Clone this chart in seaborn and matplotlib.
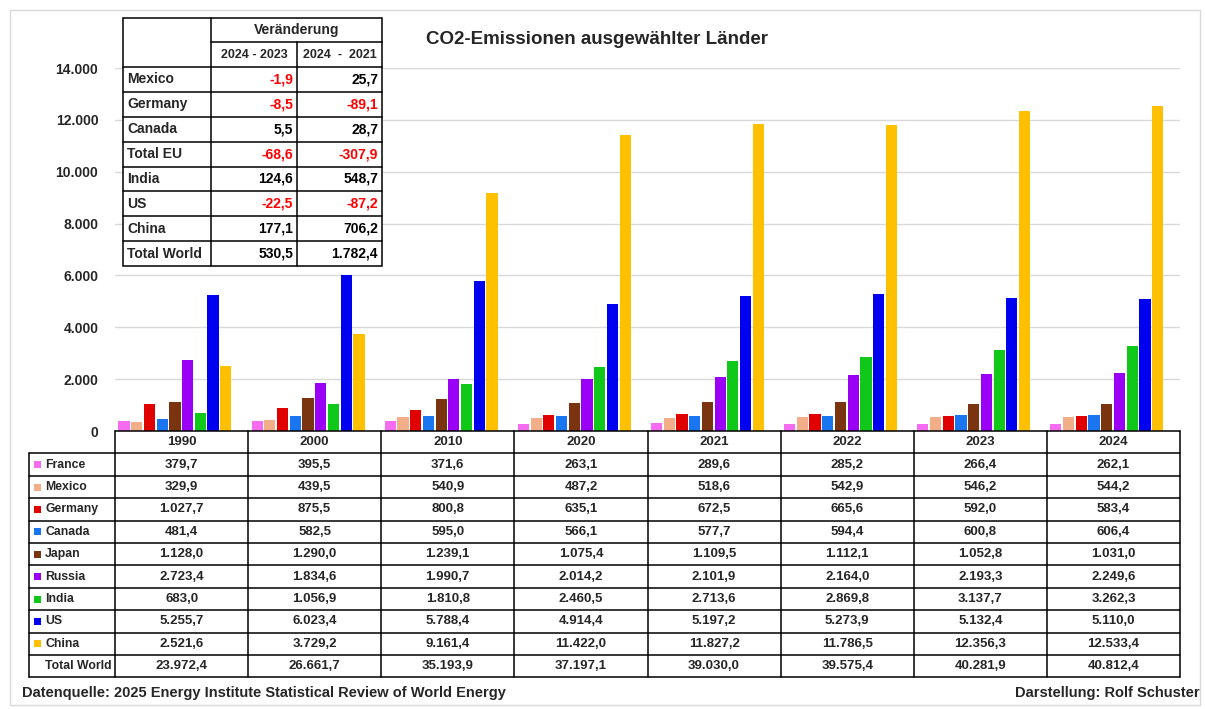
import matplotlib
matplotlib.use("Agg")
import matplotlib.pyplot as plt
from matplotlib.patches import Rectangle
import pandas as pd
import seaborn as sns

# Daten (Mio. t CO2)
years = ["1990", "2000", "2010", "2020", "2021", "2022", "2023", "2024"]
countries = ["France", "Mexico", "Germany", "Canada", "Japan", "Russia", "India", "US", "China"]
colors = ["#F56CF0", "#F2AE88", "#E00000", "#1A75F0", "#7A3410", "#9A00F5", "#10C81A", "#0000F0", "#FFC000"]

france = [379.7, 395.5, 371.6, 263.1, 289.6, 285.2, 266.4, 262.1]
mexico = [329.9, 439.5, 540.9, 487.2, 518.6, 542.9, 546.2, 544.2]
germany = [1027.7, 875.5, 800.8, 635.1, 672.5, 665.6, 592.0, 583.4]
canada = [481.4, 582.5, 595.0, 566.1, 577.7, 594.4, 600.8, 606.4]
japan = [1128.0, 1290.0, 1239.1, 1075.4, 1109.5, 1112.1, 1052.8, 1031.0]
russia = [2723.4, 1834.6, 1990.7, 2014.2, 2101.9, 2164.0, 2193.3, 2249.6]
india = [683.0, 1056.9, 1810.8, 2460.5, 2713.6, 2869.8, 3137.7, 3262.3]
us = [5255.7, 6023.4, 5788.4, 4914.4, 5197.2, 5273.9, 5132.4, 5110.0]
china = [2521.6, 3729.2, 9161.4, 11422.0, 11827.2, 11786.5, 12356.3, 12533.4]
total_world = [23972.4, 26661.7, 35193.9, 37197.1, 39030.0, 39575.4, 40281.9, 40812.4]

# Veränderungstabelle
chg_labels = ["Mexico", "Germany", "Canada", "Total EU", "India", "US", "China", "Total World"]
chg_2023 = [-1.9, -8.5, 5.5, -68.6, 124.6, -22.5, 177.1, 530.5]
chg_2021 = [25.7, -89.1, 28.7, -307.9, 548.7, -87.2, 706.2, 1782.4]

series = [france, mexico, germany, canada, japan, russia, india, us, china]
rows = []
for c, vals in zip(countries, series):
    for y, v in zip(years, vals):
        rows.append({"Jahr": y, "Land": c, "Wert": v})
df = pd.DataFrame(rows)


def de(v, dec=1):
    s = f"{v:,.{dec}f}"
    return s.replace(",", "X").replace(".", ",").replace("X", ".")


sns.set_theme(style="white")
plt.rcParams["font.family"] = ["Liberation Sans", "DejaVu Sans"]
plt.rcParams["font.weight"] = "bold"

W, H = 1205, 709
fig = plt.figure(figsize=(W / 100, H / 100), dpi=100)
fig.patch.set_facecolor("white")

# Plotbereich in Pixeln
L, R, T, B = 115, 1180, 68, 431
ax = fig.add_axes([L / W, 1 - B / H, (R - L) / W, (B - T) / H])
sns.barplot(data=df, x="Jahr", y="Wert", hue="Land", palette=colors,
            hue_order=countries, order=years, width=0.86, gap=0.12,
            saturation=1, legend=False, ax=ax, zorder=2, linewidth=0)
ax.set_ylim(0, 14000)
# Balkengruppen sitzen im Original leicht links der Spaltenmitte
ax.set_xlim(-0.45, len(years) - 0.45)
ax.set_yticks(range(0, 14001, 2000))
ax.set_yticklabels([de(v, 0) for v in range(0, 14001, 2000)], fontsize=10, fontweight="bold")
ax.tick_params(axis="y", length=0, pad=12)
ax.tick_params(axis="x", length=0, labelbottom=False)
ax.set_xlabel("")
ax.set_ylabel("")
ax.grid(axis="y", color="#D9D9D9", lw=1, zorder=0)
ax.set_axisbelow(True)
for sp in ax.spines.values():
    sp.set_visible(False)

# Overlay in Pixelkoordinaten
ov = fig.add_axes([0, 0, 1, 1], zorder=5)
ov.set_xlim(0, W)
ov.set_ylim(H, 0)
ov.axis("off")
ov.patch.set_alpha(0)

ov.add_patch(Rectangle((10, 10), 1190, 695, fill=False, ec="#D9D9D9", lw=1))

ov.text(597, 40, "CO2-Emissionen ausgewählter Länder", ha="center", va="center",
        fontsize=13.5, fontweight="bold")

# Datentabelle unter dem Diagramm
fs = 9.5
fl = 8.8
cw = (R - L) / len(years)
row_h = 22.4
tab_left = 29
lw = 1.1
# Kopfzeile mit Jahren
ov.plot([L, R], [B, B], color="black", lw=lw)
for i, y in enumerate(years):
    ov.text(L + cw * (i + 0.5), B + row_h / 2, y, ha="center", va="center", fontsize=fs, fontweight="bold")
table_rows = countries + ["Total World"]
table_vals = series + [total_world]
y0 = B + row_h
for r, (name, vals) in enumerate(zip(table_rows, table_vals)):
    yc = y0 + row_h * (r + 0.5)
    if r < len(countries):
        ov.add_patch(Rectangle((34, yc - 3.5), 7, 7, color=colors[r], lw=0))
    ov.text(45, yc, name, ha="left", va="center", fontsize=fl, fontweight="bold")
    for i, v in enumerate(vals):
        ov.text(L + cw * (i + 0.5), yc, de(v), ha="center", va="center", fontsize=fs, fontweight="bold")
y_end = y0 + row_h * len(table_rows)
for r in range(len(table_rows) + 1):
    yy = y0 + row_h * r
    ov.plot([tab_left, R], [yy, yy], color="black", lw=lw)
ov.plot([tab_left, tab_left], [y0, y_end], color="black", lw=lw)
for i in range(len(years) + 1):
    ov.plot([L + cw * i] * 2, [B, y_end], color="black", lw=lw)

# Veränderungstabelle oben links
cx = [123, 211, 297, 382]
ry = [18, 42, 67]
rh = (266 - 67) / len(chg_labels)
fi = 10
ov.add_patch(Rectangle((cx[0], ry[0]), cx[3] - cx[0], 266 - ry[0], facecolor="white",
                       edgecolor="black", lw=lw, zorder=4))
ov.plot([cx[1], cx[3]], [ry[1], ry[1]], color="black", lw=lw, zorder=5)
ov.plot([cx[1]] * 2, [ry[0], 266], color="black", lw=lw, zorder=5)
ov.plot([cx[2]] * 2, [ry[1], 266], color="black", lw=lw, zorder=5)
ov.text((cx[1] + cx[3]) / 2, (ry[0] + ry[1]) / 2, "Veränderung", ha="center", va="center",
        fontsize=fi, fontweight="bold", zorder=6)
ov.text((cx[1] + cx[2]) / 2, (ry[1] + ry[2]) / 2, "2024 - 2023", ha="center", va="center",
        fontsize=9, fontweight="bold", zorder=6)
ov.text((cx[2] + cx[3]) / 2, (ry[1] + ry[2]) / 2, "2024  -  2021", ha="center", va="center",
        fontsize=9, fontweight="bold", zorder=6)
for r, (name, a, b) in enumerate(zip(chg_labels, chg_2023, chg_2021)):
    top = ry[2] + rh * r
    ov.plot([cx[0], cx[3]], [top, top], color="black", lw=lw, zorder=5)
    yc = top + rh / 2
    ov.text(cx[0] + 4, yc, name, ha="left", va="center", fontsize=fi, fontweight="bold", zorder=6)
    for val, xr in ((a, cx[2]), (b, cx[3])):
        ov.text(xr - 4, yc, de(val), ha="right", va="center", fontsize=fi, fontweight="bold",
                color="#FF0000" if val < 0 else "black", zorder=6)

# Fußzeile
ov.text(22, 693, "Datenquelle: 2025 Energy Institute Statistical Review of World Energy",
        ha="left", va="center", fontsize=10.5, fontweight="bold")
ov.text(1200, 693, "Darstellung: Rolf Schuster", ha="right", va="center", fontsize=10.5, fontweight="bold")

fig.savefig("out.png", dpi=100)
